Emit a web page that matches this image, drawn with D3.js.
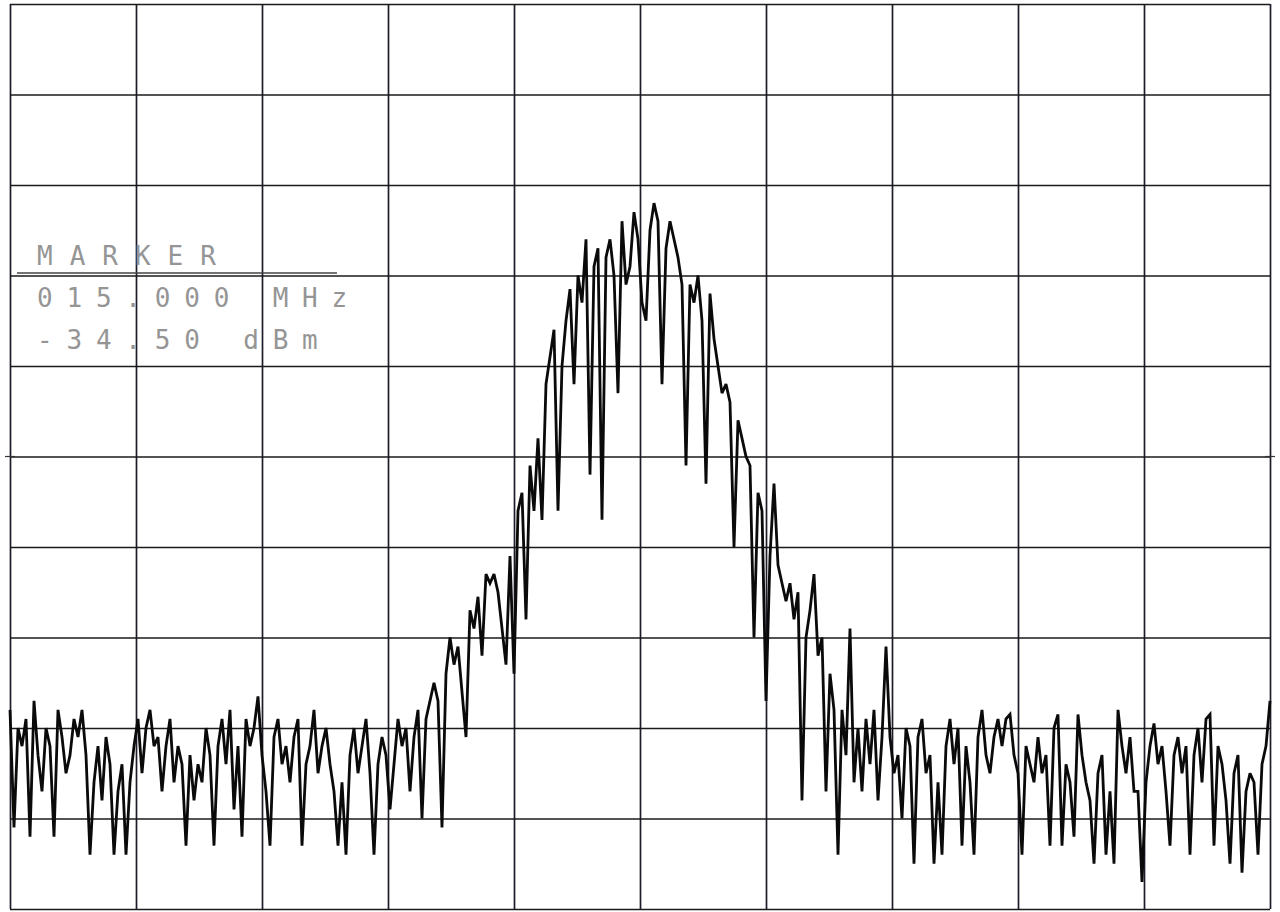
<!DOCTYPE html>
<html>
<head>
<meta charset="utf-8">
<script src="https://cdn.jsdelivr.net/npm/d3@7"></script>
<style>
  body { margin: 0; background: #fff; }
  svg { display: block; }
</style>
</head>
<body>
<div class="d3-container"></div>
<script>
// sweep settings (MHz) and display levels (dBm)
const sweepStart = 10;
const sweepStop = 20;
const freqTicks = [10, 11, 12, 13, 14, 15, 16, 17, 18, 19, 20];
const levelTicks = [-10, -20, -30, -40, -50, -60, -70, -80, -90, -100, -110];

const markerLines = ["MARKER", "015.000 MHz", "-34.50 dBm"];

// trace, one point per sweep bin
const noiseLeft = [
  -88, -101, -90, -92, -89, -102, -87, -93, -97, -90,
  -92, -102, -88, -91, -95, -93, -89, -91, -88, -93,
  -104, -96, -92, -98, -91, -94, -104, -97, -94, -104,
  -96, -92, -89, -95, -90, -88, -92, -91, -97, -92,
  -89, -96, -92, -94, -103, -93, -98, -94, -96, -90,
  -93, -103, -92, -89, -94, -88, -99, -92, -102, -89,
  -92, -90, -86.5, -93, -97, -103, -91, -89, -94, -92,
  -96, -91, -89, -103, -94, -92, -88, -95, -92, -90,
  -94, -97, -103, -96, -104, -93, -90, -95, -92, -89,
  -95, -104, -94, -91, -93, -99, -94, -89, -92, -90,
  -97, -91, -88, -100, -89, -87, -85
];
const hump = [
  -87, -101, -84, -80, -83, -81, -86, -91, -77, -79,
  -75.5, -82, -73, -74, -73, -75, -79, -83, -71, -84,
  -66, -64, -78, -61, -66, -58, -67, -52, -49, -46,
  -66, -50, -45, -41.5, -52, -40, -43, -36, -62, -39,
  -37, -67, -38, -36, -40, -53, -34, -41, -39, -33,
  -36, -43, -45, -35, -32, -34, -52, -37, -34, -36,
  -38, -41, -61, -41, -43, -40, -45, -63, -42, -47,
  -50, -53, -52, -54, -70, -56, -58, -60, -61, -80,
  -64, -66, -87, -71, -63, -72, -74, -76, -74, -78,
  -75, -98, -80, -77, -73, -82, -80, -97, -84, -88,
  -104, -88, -93
];
const noiseRight = [
  -79, -96, -90, -97, -89, -94, -88, -98, -91, -81,
  -91, -95, -93, -100, -90, -92, -105, -91, -89, -95,
  -93, -105, -96, -104, -92, -89, -94, -90, -103, -92,
  -96, -104, -91, -88, -93, -95, -91, -89, -92, -89,
  -88.5, -93, -95, -104, -92, -94, -96, -91, -95, -93,
  -103, -90, -88.5, -103, -94, -96, -102, -88.5, -93, -96,
  -98, -105, -95, -93, -104, -97, -105, -88, -92, -95,
  -91, -97, -97, -107, -96, -92, -89.5, -94, -92, -97,
  -103, -93, -91, -95, -92, -104, -93, -90, -96, -89,
  -88.5, -103, -92, -94, -98, -105, -95, -93, -106, -97,
  -95, -96, -104, -94, -92, -87
];

const trace = noiseLeft.concat(hump, noiseRight);
const step = (sweepStop - sweepStart) / (trace.length - 1);
const data = trace.map((v, i) => ({f: sweepStart + i * step, dbm: v}));

const width = 1280;
const height = 912;
const margin = {top: 4, bottom: 3, left: 10, right: 10};

const svg = d3.select(".d3-container")
  .append("svg")
  .attr("width", width)
  .attr("height", height);

const x = d3.scaleLinear()
  .domain([sweepStart, sweepStop])
  .range([margin.left, width - margin.right]);

const y = d3.scaleLinear()
  .domain([-10, -110])
  .range([margin.top, height - margin.bottom]);

// graticule
svg.append("g")
  .attr("class", "grid-x")
  .attr("transform", `translate(0, ${height - margin.bottom})`)
  .call(d3.axisBottom(x).tickValues(freqTicks).tickSize(-(height - margin.top - margin.bottom)).tickFormat(""))
  .call(g => g.select(".domain").remove())
  .call(g => g.selectAll(".tick line").attr("stroke", "#1c1c2a").attr("stroke-width", 1.7));

svg.append("g")
  .attr("class", "grid-y")
  .attr("transform", `translate(${margin.left}, 0)`)
  .call(d3.axisLeft(y).tickValues(levelTicks).tickSize(-(width - margin.left - margin.right)).tickFormat(""))
  .call(g => g.select(".domain").remove())
  .call(g => g.selectAll(".tick line").attr("stroke", "#1a1a1a").attr("stroke-width", 1.7));

// small centre marks on the left and right edges
svg.append("g")
  .attr("stroke", "#333")
  .attr("stroke-width", 1.2)
  .selectAll("line")
  .data([x(sweepStart), x(sweepStop)])
  .join("line")
  .attr("x1", d => d - 5)
  .attr("x2", d => d + 5)
  .attr("y1", y(-60))
  .attr("y2", y(-60));

// marker readout
const readout = svg.append("g")
  .attr("font-family", "DejaVu Sans Mono, monospace")
  .attr("font-size", 26)
  .attr("fill", "#959595");

readout.selectAll("text")
  .data(markerLines)
  .join("text")
  .attr("x", 37)
  .attr("y", (d, i) => 265 + i * 42)
  .attr("letter-spacing", (d, i) => i === 0 ? 17 : 13.8)
  .text(d => d);

svg.append("line")
  .attr("x1", 17)
  .attr("x2", 337)
  .attr("y1", 273)
  .attr("y2", 273)
  .attr("stroke", "#444")
  .attr("stroke-width", 1.4);

// the trace
const line = d3.line()
  .x(d => x(d.f))
  .y(d => y(d.dbm));

svg.append("path")
  .datum(data)
  .attr("fill", "none")
  .attr("stroke", "#0a0a0a")
  .attr("stroke-width", 2.8)
  .attr("stroke-linejoin", "miter")
  .attr("stroke-miterlimit", 3)
  .attr("d", line);

svg.node();
</script>
</body>
</html>
